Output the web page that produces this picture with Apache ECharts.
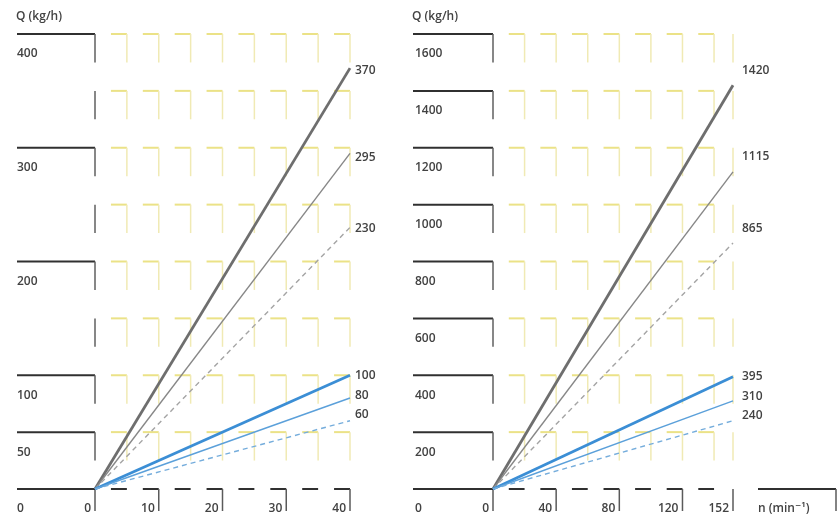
<!DOCTYPE html>
<html>
<head>
<meta charset="utf-8">
<script src="https://cdn.jsdelivr.net/npm/echarts@6/dist/echarts.min.js"></script>
<style>
html, body { margin: 0; padding: 0; background: #ffffff; }
#chart { width: 837px; height: 520px; }
</style>
</head>
<body>
<div id="chart"></div>
<script>
// ---- data ----
const leftNMax = 40;
const leftQ = [370, 295, 230, 100, 80, 60];
const rightNMax = 152;
const rightQ = [1420, 1115, 865, 395, 310, 240];

const leftXTicks = [0, 10, 20, 30, 40];
const leftYTicks = [0, 50, 100, 150, 200, 250, 300, 350, 400];
const leftYLabelled = [0, 50, 100, 200, 300, 400];
const leftMarkX = [5, 10, 15, 20, 25, 30, 35, 40];

const rightXTicks = [0, 40, 80, 120, 152];
const rightYTicks = [0, 200, 400, 600, 800, 1000, 1200, 1400, 1600];
const rightYLabelled = [0, 200, 400, 600, 800, 1000, 1200, 1400, 1600];
const rightMarkX = [20, 40, 60, 80, 100, 120, 140];
const rightEdgeX = [152];

// ---- styles ----
const FONT = '"Open Sans", "DejaVu Sans", sans-serif';
const TXT = '#424242';
const FS = 12;
const lineStyles = [
  { color: '#6e6e6e', width: 2.8, type: 'solid' },
  { color: '#878787', width: 1.4, type: 'solid' },
  { color: '#a4a4a4', width: 1.4, type: [5, 4] },
  { color: '#3b8ed5', width: 2.8, type: 'solid' },
  { color: '#5ba0da', width: 1.4, type: 'solid' },
  { color: '#75addc', width: 1.4, type: [5, 4] }
];
const leftLabelOffsets = [[0, 2], [0, 4], [0, 1], [0, 0], [0, -2], [0, -6]];
const rightLabelOffsets = [[4, -15], [4, -15], [4, -14], [4, 0], [4, -4], [4, -5]];

function yellowMarks(gi, markX, edgeX, yTicks, xStep, yStep) {
  const data = [];
  yTicks.forEach(function (y) {
    if (y <= 0) return;
    markX.forEach(function (x) { data.push([x, y, 1]); });
    edgeX.forEach(function (x) { data.push([x, y, 0]); });
  });
  return {
    type: 'custom', xAxisIndex: gi, yAxisIndex: gi, silent: true, z: 1,
    data: data,
    renderItem: function (params, api) {
      const x = api.value(0), y = api.value(1), stub = api.value(2);
      const p = api.coord([x, y]);
      const d = api.coord([x, y - yStep / 2]);
      const l = api.coord([x - xStep / 2, y]);
      const children = [];
      if (stub) {
        children.push({ type: 'line', shape: { x1: l[0], y1: p[1], x2: p[0], y2: p[1] },
          style: { stroke: '#ebe287', lineWidth: 2 } });
      }
      children.push({ type: 'line', shape: { x1: p[0], y1: p[1], x2: p[0], y2: d[1] },
        style: { stroke: '#f0eab4', lineWidth: 1.5 } });
      return { type: 'group', children: children };
    }
  };
}

function axisMarks(gi, markX, xTicks, yTicks, yLabelled, xStep, yStep, hLen, withUnit) {
  const data = [];
  markX.forEach(function (x) { data.push([x, 0, 0]); });
  xTicks.forEach(function (x) { data.push([x, 0, 1]); });
  yTicks.forEach(function (y) {
    if (yLabelled.indexOf(y) >= 0) data.push([0, y, 2]);
    if (y > 0) data.push([0, y, 3]);
  });
  if (withUnit) data.push([xTicks[xTicks.length - 1], 0, 4]);
  return {
    type: 'custom', xAxisIndex: gi, yAxisIndex: gi, silent: true, z: 2,
    data: data,
    renderItem: function (params, api) {
      const x = api.value(0), y = api.value(1), k = api.value(2);
      const p = api.coord([x, y]);
      let shape, style;
      if (k === 0) {
        const l = api.coord([x - xStep / 2, y]);
        shape = { x1: l[0], y1: p[1], x2: p[0], y2: p[1] };
        style = { stroke: '#303030', lineWidth: 2 };
      } else if (k === 1) {
        shape = { x1: p[0], y1: p[1], x2: p[0], y2: p[1] + 22 };
        style = { stroke: '#5a5a5a', lineWidth: 1.5 };
      } else if (k === 2) {
        shape = { x1: p[0] - hLen, y1: p[1], x2: p[0], y2: p[1] };
        style = { stroke: '#303030', lineWidth: 2 };
      } else if (k === 3) {
        const d = api.coord([x, y - yStep / 2]);
        shape = { x1: p[0], y1: p[1], x2: p[0], y2: d[1] };
        style = { stroke: '#5f5f5f', lineWidth: 1.5 };
      } else {
        return { type: 'group', children: [
          { type: 'line', shape: { x1: p[0] + 25, y1: p[1], x2: p[0] + 103, y2: p[1] },
            style: { stroke: '#303030', lineWidth: 2 } },
          { type: 'line', shape: { x1: p[0] + 103, y1: p[1], x2: p[0] + 103, y2: p[1] + 22 },
            style: { stroke: '#5a5a5a', lineWidth: 1.5 } }
        ] };
      }
      return { type: 'line', shape: shape, style: style };
    }
  };
}

function flowLines(gi, nMax, values, offsets, distance) {
  return values.map(function (v, i) {
    const s = lineStyles[i];
    return {
      type: 'line', name: String(v), xAxisIndex: gi, yAxisIndex: gi, z: 5,
      data: [[0, 0], [nMax, v]],
      showSymbol: false, symbol: 'none', silent: true,
      lineStyle: { color: s.color, width: s.width, type: s.type, cap: 'butt' },
      endLabel: {
        show: true, distance: distance, offset: offsets[i],
        formatter: function (p) { return p.value[1]; },
        color: TXT, fontFamily: FONT, fontSize: FS, fontWeight: 600
      }
    };
  });
}

const axisLabelY = function (labelled) {
  return {
    align: 'left', margin: 78, verticalAlign: 'top', padding: [14, 0, 0, 0],
    color: TXT, fontFamily: FONT, fontSize: FS, fontWeight: 600,
    formatter: function (v) { return labelled.indexOf(v) >= 0 ? String(v) : ''; }
  };
};
const axisLabelX = {
  align: 'right', margin: 14, padding: [0, 4, 0, 0],
  color: TXT, fontFamily: FONT, fontSize: FS, fontWeight: 600
};

const chart = echarts.init(document.getElementById('chart'), null, { renderer: 'canvas' });
chart.setOption({
  animation: false,
  backgroundColor: '#ffffff',
  title: [
    { text: 'Q (kg/h)', left: 16, top: 11, padding: 0,
      textStyle: { color: TXT, fontFamily: FONT, fontSize: FS, fontWeight: 600 } },
    { text: 'Q (kg/h)', left: 412, top: 11, padding: 0,
      textStyle: { color: TXT, fontFamily: FONT, fontSize: FS, fontWeight: 600 } }
  ],
  grid: [
    { left: 95, right: 487, top: 34, bottom: 31 },
    { left: 493, right: 104, top: 34, bottom: 31 }
  ],
  xAxis: [
    { gridIndex: 0, type: 'value', min: 0, max: leftNMax, interval: 10,
      axisLine: { show: false }, axisTick: { show: false }, splitLine: { show: false },
      axisLabel: axisLabelX },
    { gridIndex: 1, type: 'value', min: 0, max: rightNMax, interval: 40,
      axisLine: { show: false }, axisTick: { show: false }, splitLine: { show: false },
      axisLabel: axisLabelX,
      name: 'n (min⁻¹)', nameLocation: 'end', nameGap: 25,
      nameTextStyle: { align: 'left', verticalAlign: 'top', padding: [14, 0, 0, 0],
        color: TXT, fontFamily: FONT, fontSize: FS, fontWeight: 600 } }
  ],
  yAxis: [
    { gridIndex: 0, type: 'value', min: 0, max: 400, interval: 50,
      axisLine: { show: false }, axisTick: { show: false }, splitLine: { show: false },
      axisLabel: axisLabelY(leftYLabelled) },
    { gridIndex: 1, type: 'value', min: 0, max: 1600, interval: 200,
      axisLine: { show: false }, axisTick: { show: false }, splitLine: { show: false },
      axisLabel: axisLabelY(rightYLabelled) }
  ],
  series: [
    yellowMarks(0, leftMarkX, [], leftYTicks, 5, 50),
    yellowMarks(1, rightMarkX, rightEdgeX, rightYTicks, 20, 200),
    axisMarks(0, leftMarkX, leftXTicks, leftYTicks, leftYLabelled, 5, 50, 78, false),
    axisMarks(1, rightMarkX, rightXTicks, rightYTicks, rightYLabelled, 20, 200, 80, true)
  ].concat(flowLines(0, leftNMax, leftQ, leftLabelOffsets, 5))
   .concat(flowLines(1, rightNMax, rightQ, rightLabelOffsets, 5))
});
</script>
</body>
</html>
